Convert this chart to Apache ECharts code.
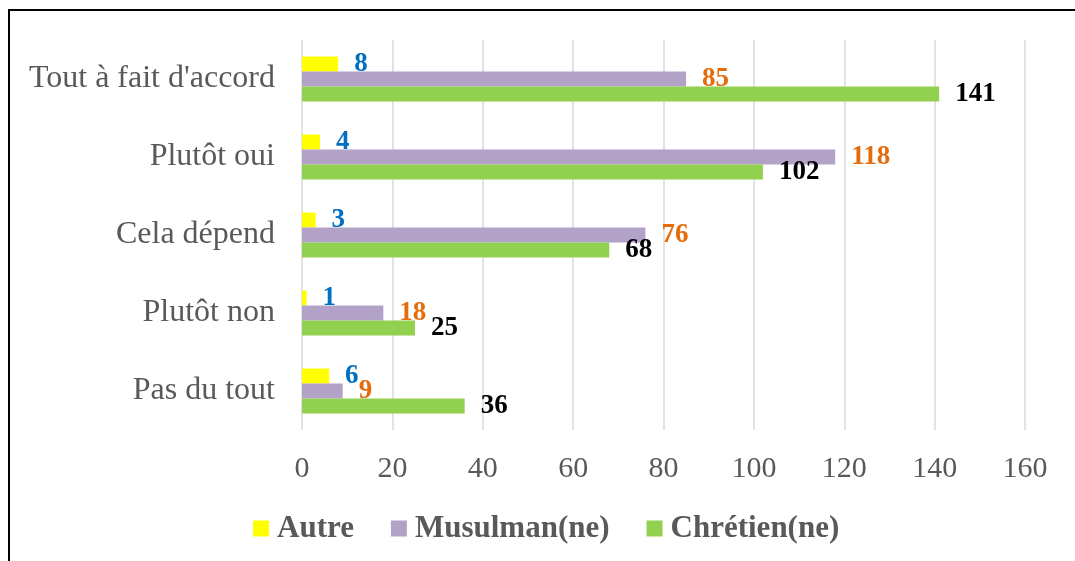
<!DOCTYPE html>
<html><head><meta charset="utf-8">
<script src="https://cdn.jsdelivr.net/npm/echarts@6/dist/echarts.min.js"></script>
<style>html,body{margin:0;padding:0;background:#fff}#c{width:1075px;height:561px}</style>
</head><body><div id="c"></div>
<script>
const categories = ["Tout à fait d'accord", "Plutôt oui", "Cela dépend", "Plutôt non", "Pas du tout"];
const autre = [8, 4, 3, 1, 6];
const musulman = [85, 118, 76, 18, 9];
const chretien = [141, 102, 68, 25, 36];
const xTicks = {min: 0, max: 160, interval: 20};

const FONT = '"Liberation Serif", "Times New Roman", serif';
const chart = echarts.init(document.getElementById('c'));
function lbl(color) {
  return {show: true, position: 'right', distance: 16, color: color, fontFamily: FONT, fontWeight: 'bold', fontSize: 27};
}
chart.setOption({
  animation: false,
  graphic: [{type: 'rect', shape: {x: 9, y: 10, width: 1200, height: 700}, style: {fill: 'none', stroke: '#000', lineWidth: 2}, silent: true}],
  grid: {left: 302, right: 50, top: 40, bottom: 131, containLabel: false},
  legend: {
    top: 508, left: 248, itemWidth: 16, itemHeight: 16, itemGap: 37,
    icon: 'rect',
    textStyle: {fontFamily: FONT, fontWeight: 'bold', fontSize: 31, color: '#595959', padding: [0, 0, 0, 3]},
    data: ['Autre', 'Musulman(ne)', 'Chrétien(ne)']
  },
  xAxis: {
    type: 'value', min: xTicks.min, max: xTicks.max, interval: xTicks.interval,
    axisLine: {show: false}, axisTick: {show: false},
    splitLine: {lineStyle: {color: '#d9d9d9', width: 1.5}},
    axisLabel: {fontFamily: FONT, fontSize: 30, color: '#595959', margin: 24}
  },
  yAxis: {
    type: 'category', data: categories, inverse: true,
    axisLine: {show: false}, axisTick: {show: false},
    axisLabel: {fontFamily: FONT, fontSize: 32, color: '#595959', margin: 27}
  },
  series: [
    {name: 'Autre', type: 'bar', data: autre, barWidth: 15, barGap: '0%', itemStyle: {color: '#ffff00'}, label: lbl('#0070c0')},
    {name: 'Musulman(ne)', type: 'bar', data: musulman, barWidth: 15, barGap: '0%', itemStyle: {color: '#b3a2c7'}, label: lbl('#e46c0a')},
    {name: 'Chrétien(ne)', type: 'bar', data: chretien, barWidth: 15, barGap: '0%', itemStyle: {color: '#92d050'}, label: lbl('#000000')}
  ]
});
</script></body></html>
